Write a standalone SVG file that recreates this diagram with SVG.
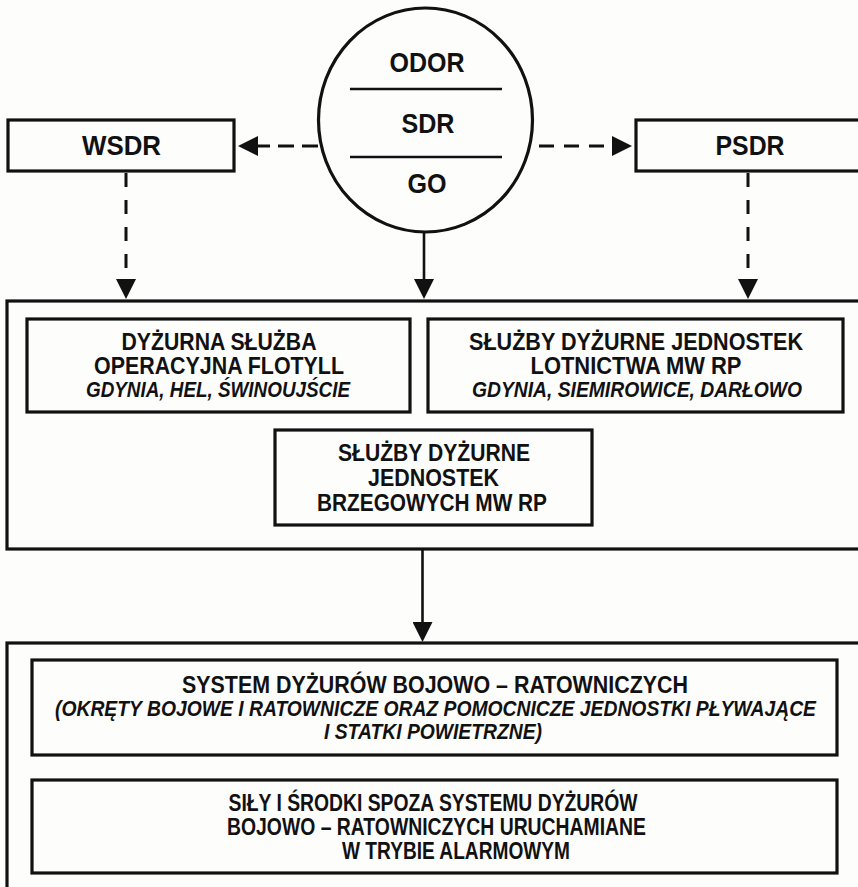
<svg xmlns="http://www.w3.org/2000/svg" width="858" height="887" viewBox="0 0 858 887">
  <style>
    .box { fill: none; stroke: #111; stroke-width: 3.2; }
    .sep { stroke: #111; stroke-width: 2.6; }
    .t { font-family: "Liberation Sans", Arial, sans-serif; font-weight: bold; fill: #111; text-anchor: middle; }
    .big { font-size: 28px; }
    .n { font-size: 23.5px; }
    .i { font-size: 22px; font-style: italic; }
    .solid { stroke: #111; stroke-width: 2.6; fill: none; }
    .dash { stroke: #111; stroke-width: 3; fill: none; }
  </style>
  <defs>
    <marker id="head" viewBox="0 0 20 20" refX="2" refY="10" markerWidth="20" markerHeight="20" markerUnits="userSpaceOnUse" orient="auto">
      <path d="M0,0 L20,10 L0,20 z" fill="#111"/>
    </marker>
  </defs>

  <rect x="0" y="0" width="858" height="887" fill="#fdfdfc"/>

  <!-- central command ellipse -->
  <g id="odor">
    <ellipse cx="425.5" cy="120" rx="107" ry="112" class="box"/>
    <line x1="350" y1="89" x2="502" y2="89" class="sep"/>
    <line x1="350" y1="157" x2="502" y2="157" class="sep"/>
    <text class="t big" x="427" y="72" textLength="75" lengthAdjust="spacingAndGlyphs">ODOR</text>
    <text class="t big" x="428" y="133" textLength="53" lengthAdjust="spacingAndGlyphs">SDR</text>
    <text class="t big" x="427" y="193" textLength="39" lengthAdjust="spacingAndGlyphs">GO</text>
  </g>

  <g id="wsdr">
    <rect x="8" y="120" width="226" height="51" class="box"/>
    <text class="t big" x="121.5" y="155" textLength="79" lengthAdjust="spacingAndGlyphs">WSDR</text>
  </g>

  <g id="psdr">
    <rect x="636" y="120" width="240" height="51" class="box"/>
    <text class="t big" x="750" y="155" textLength="69" lengthAdjust="spacingAndGlyphs">PSDR</text>
  </g>

  <!-- duty services group -->
  <g id="duty-services">
    <rect x="7" y="301" width="870" height="248" class="box"/>
  </g>

  <g id="flotilla">
    <rect x="27" y="319" width="383" height="93" class="box"/>
    <text class="t n" x="219" y="350" textLength="195" lengthAdjust="spacingAndGlyphs">DYŻURNA SŁUŻBA</text>
    <text class="t n" x="219" y="374" textLength="250" lengthAdjust="spacingAndGlyphs">OPERACYJNA FLOTYLL</text>
    <text class="t i" x="218" y="397" textLength="264" lengthAdjust="spacingAndGlyphs">GDYNIA, HEL, ŚWINOUJŚCIE</text>
  </g>

  <g id="aviation">
    <rect x="428" y="319" width="415" height="93" class="box"/>
    <text class="t n" x="636" y="350" textLength="334" lengthAdjust="spacingAndGlyphs">SŁUŻBY DYŻURNE JEDNOSTEK</text>
    <text class="t n" x="636" y="374" textLength="211" lengthAdjust="spacingAndGlyphs">LOTNICTWA MW RP</text>
    <text class="t i" x="637" y="397" textLength="330" lengthAdjust="spacingAndGlyphs">GDYNIA, SIEMIROWICE, DARŁOWO</text>
  </g>

  <g id="coastal">
    <rect x="275" y="430" width="317" height="95" class="box"/>
    <text class="t n" x="434" y="461" textLength="192" lengthAdjust="spacingAndGlyphs">SŁUŻBY DYŻURNE</text>
    <text class="t n" x="433.5" y="486" textLength="131" lengthAdjust="spacingAndGlyphs">JEDNOSTEK</text>
    <text class="t n" x="432" y="511" textLength="230" lengthAdjust="spacingAndGlyphs">BRZEGOWYCH MW RP</text>
  </g>

  <!-- forces group -->
  <g id="forces">
    <rect x="7" y="643" width="870" height="260" class="box"/>
  </g>

  <g id="rescue-system">
    <rect x="32" y="660" width="805" height="95" class="box"/>
    <text class="t n" x="435" y="693" textLength="506" lengthAdjust="spacingAndGlyphs">SYSTEM DYŻURÓW BOJOWO – RATOWNICZYCH</text>
    <text class="t i" x="435.5" y="716" font-size="20" textLength="761" lengthAdjust="spacingAndGlyphs">(OKRĘTY BOJOWE I RATOWNICZE ORAZ POMOCNICZE JEDNOSTKI PŁYWAJĄCE</text>
    <text class="t i" x="433" y="739" textLength="218" lengthAdjust="spacingAndGlyphs">I STATKI POWIETRZNE)</text>
  </g>

  <g id="alarm-forces">
    <rect x="32" y="780" width="805" height="93" class="box"/>
    <text class="t n" x="433" y="811" textLength="409" lengthAdjust="spacingAndGlyphs">SIŁY I ŚRODKI SPOZA SYSTEMU DYŻURÓW</text>
    <text class="t n" x="436.5" y="835" textLength="419" lengthAdjust="spacingAndGlyphs">BOJOWO – RATOWNICZYCH URUCHAMIANE</text>
    <text class="t n" x="456" y="859" textLength="228" lengthAdjust="spacingAndGlyphs">W TRYBIE ALARMOWYM</text>
  </g>

  <!-- connectors -->
  <g id="connectors">
    <line x1="318" y1="146" x2="256" y2="146" class="dash" stroke-dasharray="16 8" marker-end="url(#head)"/>
    <line x1="539" y1="146" x2="614" y2="146" class="dash" stroke-dasharray="15 10" marker-end="url(#head)"/>
    <line x1="126" y1="173" x2="126" y2="281" class="dash" stroke-dasharray="14 13" marker-end="url(#head)"/>
    <line x1="748" y1="173" x2="748" y2="281" class="dash" stroke-dasharray="14 13" marker-end="url(#head)"/>
    <line x1="424" y1="232" x2="424" y2="281" class="solid" marker-end="url(#head)"/>
    <line x1="422.5" y1="550" x2="422.5" y2="624" class="solid" marker-end="url(#head)"/>
  </g>
</svg>
